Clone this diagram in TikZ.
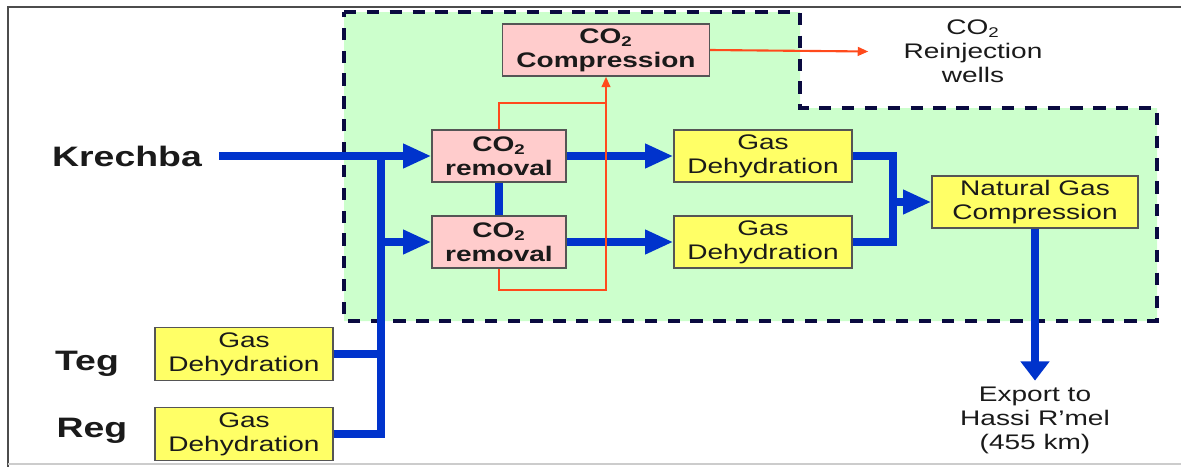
\documentclass[tikz,border=0pt]{standalone}
\usepackage{fontspec}
\setmainfont{Liberation Sans}[FakeStretch=1.33]
\usepackage{tikz}
\usetikzlibrary{arrows.meta,calc,positioning}
\definecolor{zonegreen}{HTML}{CCFFCC}
\definecolor{zoneedge}{HTML}{0A0A40}
\definecolor{rmpink}{HTML}{FFCCCC}
\definecolor{dhyellow}{HTML}{FFFF66}
\definecolor{gasblue}{HTML}{0033CC}
\definecolor{co2red}{HTML}{FF4A1C}
\definecolor{boxedge}{HTML}{555555}
\definecolor{inkdark}{HTML}{1A1A1A}
\tikzset{
  zone/.style={fill=zonegreen,draw=zoneedge,line width=2pt,dash pattern=on 7pt off 6pt,line join=miter},
  unit/.style={draw=boxedge,line width=0.8pt,align=center,inner sep=0pt,minimum height=1.04cm,
    text=inkdark,font=\fontsize{12}{13.7}\selectfont,execute at begin node={\rule{0pt}{12pt}}},
  rmbox/.style={unit,fill=rmpink,font=\fontsize{12}{13.7}\selectfont\bfseries},
  dhbox/.style={unit,fill=dhyellow},
  source/.style={inner sep=0pt,text=inkdark,font=\fontsize{16}{18}\selectfont\bfseries},
  sink/.style={inner sep=0pt,align=center,text=inkdark,font=\fontsize{12}{13.7}\selectfont},
  gasline/.style={draw=gasblue,line width=4.3pt,line join=miter},
  gasarrow/.style={gasline,-{Triangle[length=16pt,width=13pt]}},
  co2line/.style={draw=co2red,line width=1.2pt},
  co2arrow/.style={co2line,-{Triangle[length=6pt,width=5pt]}},
  frame/.style={draw=gray!60!black,line width=1pt}
}

\begin{document}
\begin{tikzpicture}
\useasboundingbox (0,0) rectangle (23.62,9.34);
% outer frame
\draw[frame] (23.62,9.20) -- (0.16,9.20) -- (0.16,0);
\draw[frame,draw=gray!40,line width=0.6pt] (0.16,0.06) -- (23.62,0.06);

% plant area
\draw[zone] (6.88,9.10) -- (16.00,9.10) -- (16.00,7.18) -- (23.14,7.18)
  -- (23.14,2.92) -- (6.88,2.92) -- cycle;

% units
\node[rmbox,minimum width=4.14cm] (comp) at (12.12,8.34) {CO\textsubscript{2}\\Compression};
\node[rmbox,minimum width=2.68cm] (rmA) at (9.98,6.22) {CO\textsubscript{2}\\removal};
\node[rmbox,minimum width=2.68cm] (rmB) at (9.98,4.50) {CO\textsubscript{2}\\removal};
\node[dhbox,minimum width=3.56cm] (dhA) at (15.26,6.22) {Gas\\Dehydration};
\node[dhbox,minimum width=3.56cm] (dhB) at (15.26,4.50) {Gas\\Dehydration};
\node[dhbox,minimum width=4.12cm] (ngc) at (20.70,5.30) {Natural Gas\\Compression};
\node[dhbox,minimum width=3.56cm,minimum height=1.06cm] (dhT) at (4.88,2.26) {Gas\\Dehydration};
\node[dhbox,minimum width=3.56cm,minimum height=1.06cm] (dhR) at (4.88,0.66) {Gas\\Dehydration};

% fields and destinations
\node[source] (krechba) at (2.54,6.22) {Krechba};
\node[source] (teg) at (1.74,2.06) {Teg};
\node[source] (reg) at (1.84,0.72) {Reg};
\node[sink] (reinj) at (19.46,8.31) {CO\textsubscript{2}\\Reinjection\\wells};
\node[sink] (export) at (20.70,0.93) {Export to\\Hassi R’mel\\(455 km)};

\coordinate (jA) at (7.62,6.22);
\coordinate (jB) at (7.62,4.50);
\coordinate (mrg) at (17.86,5.30);
\coordinate (tee) at (12.12,7.28);

% gas flow
\draw[gasarrow] ([xshift=0.34cm]krechba.east) -- (rmA.west);
\draw[gasline] (jA) |- (dhR.east);
\draw[gasline] (dhT.east) -- (dhT.east -| jA);
\draw[gasarrow] (jB) -- (rmB.west);
\draw[gasline] (rmA.south) -- (rmB.north);
\draw[gasarrow] (rmA.east) -- (dhA.west);
\draw[gasarrow] (rmB.east) -- (dhB.west);
\draw[gasline] (dhA.east) -| (mrg) |- (dhB.east);
\draw[gasarrow] (mrg) -- (ngc.west);
\draw[gasline,-{Triangle[length=11pt,width=16pt]}] (ngc.south) -- ([yshift=0.12cm]export.north);

% CO2 flow
\draw[co2line] (rmA.north) |- (tee);
\draw[co2arrow] (rmB.south) -- ++(0,-0.42) -| (tee) -- (comp.south);
\draw[co2arrow] (comp.east) -- ([xshift=-0.7cm]reinj.west);
\end{tikzpicture}
\end{document}
